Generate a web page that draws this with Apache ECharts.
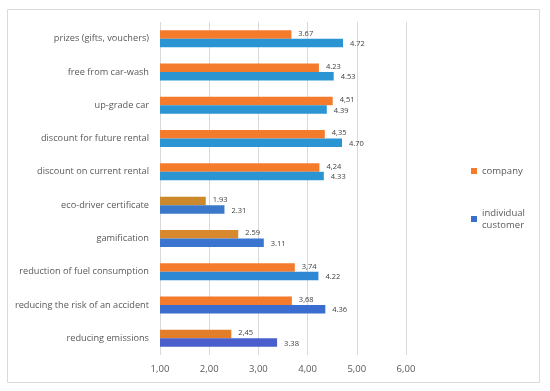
<!DOCTYPE html>
<html><head><meta charset="utf-8">
<script src="https://cdn.jsdelivr.net/npm/echarts@6/dist/echarts.min.js"></script>
<style>html,body{margin:0;padding:0;background:#fff}#c{width:550px;height:391px}</style>
</head><body><div id="c"></div>
<script>
const categories = ['prizes (gifts, vouchers)','free from car-wash','up-grade car','discount for future rental','discount on current rental','eco-driver certificate','gamification','reduction of fuel consumption','reducing the risk of an accident','reducing emissions'];
const companyValues = [3.67,4.23,4.51,4.35,4.24,1.93,2.59,3.74,3.68,2.45];
const companyLabels = ['3.67','4.23','4,51','4,35','4,24','1.93','2.59','3,74','3,68','2,45'];
const individualValues = [4.72,4.53,4.39,4.70,4.33,2.31,3.11,4.22,4.36,3.38];
const individualLabels = ['4.72','4.53','4.39','4.70','4.33','2.31','3.11','4.22','4.36','3.38'];
const xTicks = ['1,00','2,00','3,00','4,00','5,00','6,00'];
const companyColors = ['#F47A2C','#F47A2C','#F47A2C','#F47A2C','#F47A2C','#CC892C','#D8892D','#F47A2C','#F47A2C','#E27E2A'];
const individualColors = ['#2B95D3','#2B95D3','#2B95D3','#2B95D3','#2B95D3','#3B78CC','#3A76CF','#2F88D4','#3A6DCF','#4A5FCB'];

const chart = echarts.init(document.getElementById('c'));
const font = '"Open Sans", "Noto Sans", sans-serif';
chart.setOption({
  animation: false,
  textStyle: {fontFamily: font},
  graphic: [{type:'rect', shape:{x:7.5,y:9.5,width:532,height:373}, style:{fill:'none', stroke:'#D9D9D9', lineWidth:1}, silent:true}],
  grid: {left:160, right:144, top:22, bottom:36, containLabel:false},
  legend: {
    orient:'vertical', left:466, top:160, itemWidth:6, itemHeight:6, itemGap:30,
    icon:'rect',
    textStyle:{fontSize:9.5, color:'#595959', fontFamily:font, lineHeight:12},
    data:[{name:'company'},{name:'individual\ncustomer'}]
  },
  xAxis: {
    type:'value', min:1, max:6, interval:1,
    axisLine:{show:false}, axisTick:{show:false},
    splitLine:{lineStyle:{color:'#D9D9D9'}},
    axisLabel:{color:'#595959', fontSize:9.5, margin:9, formatter:(v)=>xTicks[Math.round(v)-1]}
  },
  yAxis: {
    type:'category', data:categories, inverse:true,
    axisLine:{show:false}, axisTick:{show:false},
    axisLabel:{color:'#595959', fontSize:9.2, margin:11}
  },
  series: [
    {name:'company', type:'bar', barWidth:8.5, barGap:'0%',
     data: companyValues.map((v,i)=>({value:v, itemStyle:{color:companyColors[i]}})),
     itemStyle:{color:'#F47A2C'},
     label:{show:true, position:'right', distance:7, fontSize:7.5, color:'#404040', offset:[0,-1],
            formatter:(p)=>companyLabels[p.dataIndex]}},
    {name:'individual\ncustomer', type:'bar', barWidth:8.5,
     data: individualValues.map((v,i)=>({value:v, itemStyle:{color:individualColors[i]}})),
     itemStyle:{color:'#3A6FCC'},
     label:{show:true, position:'right', distance:7, fontSize:7.5, color:'#404040', offset:[0,1],
            formatter:(p)=>individualLabels[p.dataIndex]}}
  ]
});
</script></body></html>
